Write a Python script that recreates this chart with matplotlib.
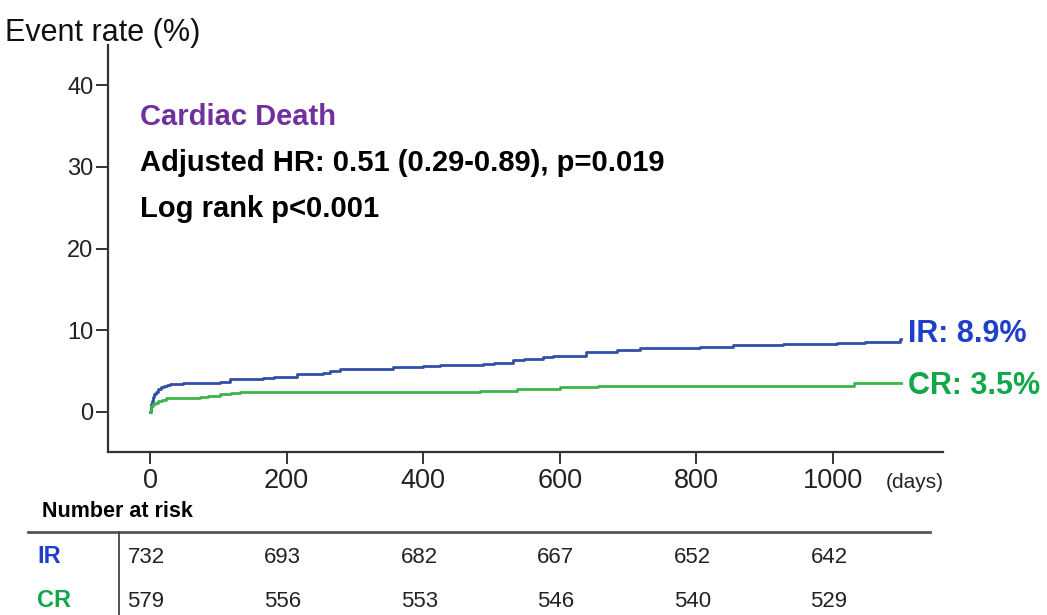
import matplotlib
matplotlib.use("Agg")
import matplotlib.pyplot as plt
from matplotlib import transforms
from matplotlib.lines import Line2D

# cumulative event rates (%)
ir_days = [0, 1, 2, 3, 4, 6, 9, 12, 16, 20, 25, 29, 49, 102, 117, 166, 181, 215,
           254, 264, 278, 356, 400, 425, 488, 503, 532, 547, 575, 590, 639, 683,
           717, 805, 854, 927, 1006, 1047, 1098, 1100]
ir_rate = [0, 0.6, 1.0, 1.4, 1.8, 2.2, 2.5, 2.8, 3.0, 3.2, 3.35, 3.45, 3.55, 3.7,
           4.0, 4.1, 4.3, 4.6, 4.75, 5.0, 5.3, 5.5, 5.6, 5.7, 5.9, 6.0, 6.3, 6.5,
           6.7, 6.9, 7.3, 7.55, 7.8, 8.0, 8.15, 8.3, 8.45, 8.6, 8.9, 8.9]
cr_days = [0, 1, 2, 4, 8, 12, 18, 24, 73, 85, 102, 118, 132, 483, 537, 600, 656,
           1030, 1100]
cr_rate = [0, 0.4, 0.7, 0.95, 1.15, 1.3, 1.5, 1.65, 1.85, 2.0, 2.15, 2.3, 2.4,
           2.6, 2.8, 3.05, 3.2, 3.5, 3.5]

risk_days = [0, 200, 400, 600, 800, 1000]
ir_risk = [732, 693, 682, 667, 652, 642]
cr_risk = [579, 556, 553, 546, 540, 529]
y_ticks = [0, 10, 20, 30, 40]

plt.rcParams['font.family'] = ['Liberation Sans', 'DejaVu Sans']

W, H = 1047, 615
fig = plt.figure(figsize=(W / 100, H / 100), dpi=100)
ax = fig.add_axes([108 / W, 1 - 452 / H, (943 - 108) / W, (452 - 45) / H])

blue_line = '#3050a8'
green_line = '#3cb54a'
ir_blue = '#1f3fc8'
cr_green = '#12a84a'
ax.step(ir_days, ir_rate, where='post', color=blue_line, lw=2.0)
ax.step(cr_days, cr_rate, where='post', color=green_line, lw=2.0)

ax.set_xlim(-61.5, 1161)
ax.set_ylim(-4.9, 44.9)
ax.set_xticks(risk_days)
ax.set_yticks(y_ticks)
for s in ['top', 'right']:
    ax.spines[s].set_visible(False)
for s in ['left', 'bottom']:
    ax.spines[s].set_color('#333333')
    ax.spines[s].set_linewidth(1.6)
ax.tick_params(axis='both', length=8.6, width=1.4, color='#333333')
ax.tick_params(axis='y', labelsize=17, pad=2, labelcolor='#222222')
ax.tick_params(axis='x', labelsize=19.5, pad=3, labelcolor='#222222')

def ftext(px, py, s, **kw):
    fig.text(px / W, 1 - py / H, s, va='baseline', ha='left', **kw)

ftext(5, 41, 'Event rate (%)', fontsize=22, color='#111111')
ftext(886, 488, '(days)', fontsize=15, color='#222222')
ftext(140, 125, 'Cardiac Death', fontsize=21, weight='bold', color='#7030a0')
ftext(140, 171, 'Adjusted HR: 0.51 (0.29-0.89), p=0.019', fontsize=21, weight='bold', color='black')
ftext(140, 217, 'Log rank p<0.001', fontsize=21, weight='bold', color='black')
ftext(908, 342, 'IR: 8.9%', fontsize=22, weight='bold', color=ir_blue)
ftext(908, 394, 'CR: 3.5%', fontsize=22, weight='bold', color=cr_green)

# number at risk table
ftext(42, 517, 'Number at risk', fontsize=15.5, weight='bold', color='black')
fig.add_artist(Line2D([28 / W, 930 / W], [1 - 532 / H, 1 - 532 / H], color='#555555', lw=2))
fig.add_artist(Line2D([119 / W, 119 / W], [1 - 532 / H, 0], color='#444444', lw=1.3))
ftext(37, 563, 'IR', fontsize=17, weight='bold', color=ir_blue)
ftext(37, 607, 'CR', fontsize=17, weight='bold', color=cr_green)
trans = transforms.blended_transform_factory(ax.transData, fig.transFigure)
shift = transforms.ScaledTranslation(-4 / 100, 0, fig.dpi_scale_trans)
for d, a, b in zip(risk_days, ir_risk, cr_risk):
    ax.text(d, 1 - 563 / H, str(a), transform=trans + shift, ha='center', va='baseline',
            fontsize=16, color='#222222')
    ax.text(d, 1 - 607 / H, str(b), transform=trans + shift, ha='center', va='baseline',
            fontsize=16, color='#222222')

fig.savefig('out.png', dpi=100)
